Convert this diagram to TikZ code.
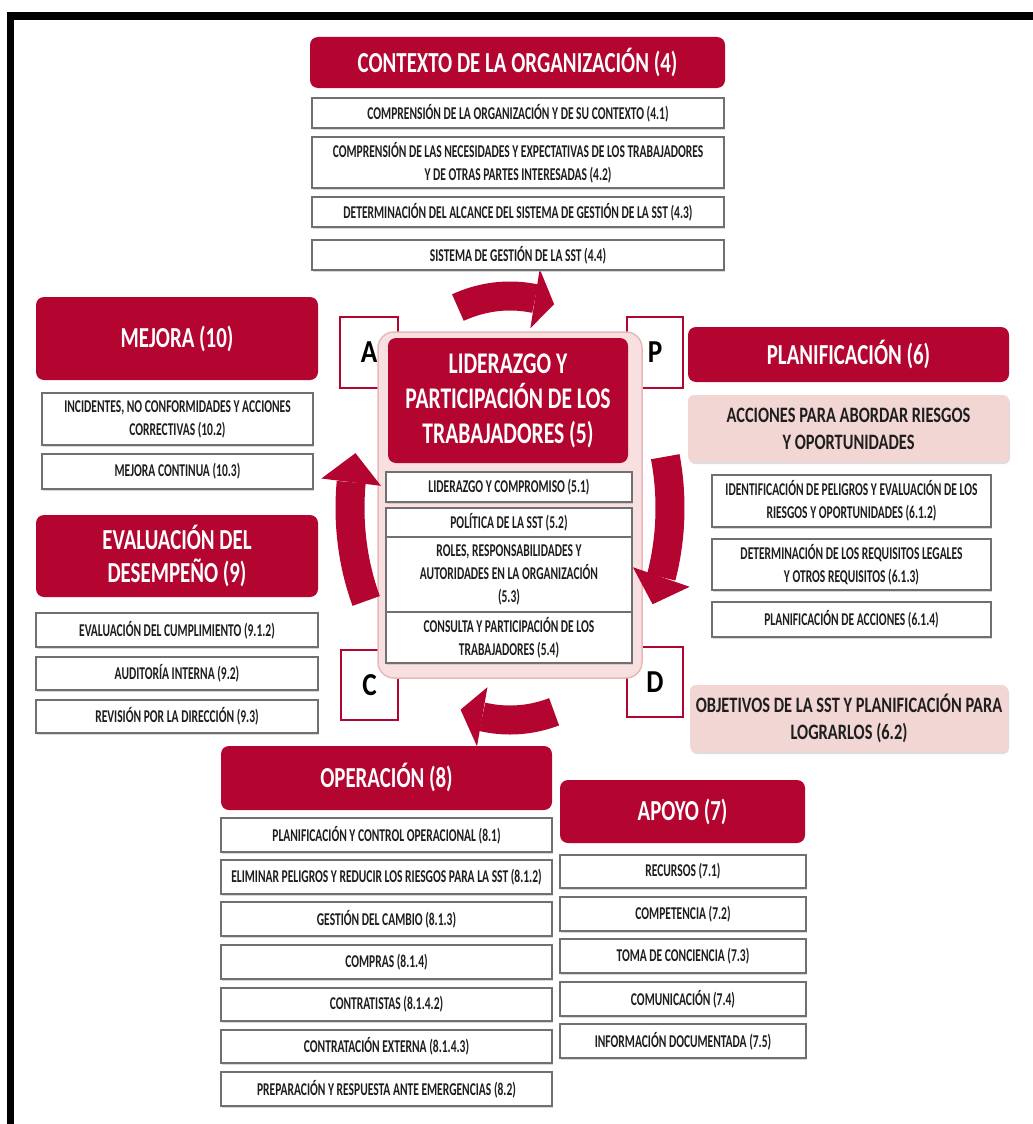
\documentclass[tikz,border=0pt]{standalone}
\usepackage{fontspec}
\setmainfont{Carlito}
\usetikzlibrary{shadows,arrows.meta}
\definecolor{crim}{RGB}{180,4,48}
\definecolor{pinkA}{RGB}{242,214,212}
\definecolor{pinkC}{RGB}{248,224,224}
\definecolor{pinkL}{RGB}{232,184,186}
\definecolor{bxline}{RGB}{112,112,112}
\definecolor{txt}{RGB}{30,30,30}
\newcommand{\tl}[1]{\scalebox{0.72}[1]{#1}}
\newcommand{\tp}[1]{\scalebox{0.745}[1]{#1}}
\newcommand{\sm}[1]{\scalebox{0.64}[1]{#1}}
\newcommand{\lt}[1]{\scalebox{0.85}[1]{#1}}
\newcommand{\mybox}[7]{\node[#6, minimum width={#4pt-#2pt}, minimum height={#5pt-#3pt}] (#1) at ({(#2+#4)/2},{(#3+#5)/2}) {#7};}
\newcommand{\cyc}[3]{%
  \draw[crim, line width=29pt] plot[domain=#1:#2, samples=40] ({510+160*cos(\x)},{508-212*sin(\x)});
  \fill[crim] ({510+190*cos(#2)},{508-242*sin(#2)}) -- ({510+130*cos(#2)},{508-182*sin(#2)}) -- ({510+160*cos(#3)},{508-212*sin(#3)}) -- cycle;}
\tikzset{
  redbox/.style={fill=crim, rounded corners=8pt, text=white, font=\fontsize{29}{33}\selectfont\bfseries, align=center, inner sep=0pt},
  graybox/.style={draw=bxline, line width=1.5pt, fill=white, drop shadow={shadow xshift=1pt,shadow yshift=-1.5pt,fill=black!30}, text=txt, font=\fontsize{18}{23}\selectfont\bfseries, align=center, inner sep=0pt},
  pinkbox/.style={fill=pinkA, rounded corners=6pt, drop shadow={shadow xshift=1pt,shadow yshift=-2pt,fill=black!25}, text=txt, font=\fontsize{22}{27}\selectfont\bfseries, align=center, inner sep=0pt},
  letterbox/.style={draw=crim, line width=2.5pt, fill=white, text=black, font=\fontsize{32}{32}\selectfont\bfseries, inner sep=0pt},
  centerbox/.style={fill=pinkC, draw=pinkL, line width=1.5pt, rounded corners=16pt, inner sep=0pt},
  frameline/.style={draw=black, line width=7.5pt, line join=miter},
}
\begin{document}
\begin{tikzpicture}[x=1pt,y=-1pt]
\useasboundingbox (0,0) rectangle (1033,1124);
\fill[white] (0,0) rectangle (1033,1124);
% frame
\draw[frameline] (10.5,1130) -- (10.5,16) -- (1040,16);

% PDCA letter boxes
\mybox{A}{340}{317}{398}{388}{letterbox}{\lt{A}}
\mybox{P}{627}{317}{683}{388}{letterbox}{\lt{P}}
\mybox{C}{341}{650}{398}{720}{letterbox}{\lt{C}}
\mybox{D}{627}{647}{683}{717}{letterbox}{\lt{D}}

% centre
\mybox{cen}{378}{332}{642}{678}{centerbox}{}
\mybox{lid}{388}{338}{628}{463}{redbox,font=\fontsize{30}{35}\selectfont\bfseries}{\tl{LIDERAZGO Y}\\\tl{PARTICIPACIÓN DE LOS}\\\tl{TRABAJADORES (5)}}
\mybox{s51}{386}{472}{632}{502}{graybox}{\sm{LIDERAZGO Y COMPROMISO (5.1)}}
\mybox{s52}{386}{508}{632}{537}{graybox}{\sm{POLÍTICA DE LA SST (5.2)}}
\mybox{s53}{386}{537}{632}{612}{graybox}{\sm{ROLES, RESPONSABILIDADES Y}\\\sm{AUTORIDADES EN LA ORGANIZACIÓN}\\\sm{(5.3)}}
\mybox{s54}{386}{612}{632}{663}{graybox}{\sm{CONSULTA Y PARTICIPACIÓN DE LOS}\\\sm{TRABAJADORES (5.4)}}

% cycle arrows
\cyc{109}{81}{74}
\cyc{14}{-19}{-27}
\cyc{-74}{-100}{-108}
\cyc{206}{173}{165}

% top
\mybox{ctx}{310}{37}{725}{88}{redbox}{\tl{CONTEXTO DE LA ORGANIZACIÓN (4)}}
\mybox{s41}{312}{98}{724}{128}{graybox}{\sm{COMPRENSIÓN DE LA ORGANIZACIÓN Y DE SU CONTEXTO (4.1)}}
\mybox{s42}{312}{137}{724}{188}{graybox}{\sm{COMPRENSIÓN DE LAS NECESIDADES Y EXPECTATIVAS DE LOS TRABAJADORES}\\\sm{Y DE OTRAS PARTES INTERESADAS (4.2)}}
\mybox{s43}{312}{197}{724}{227}{graybox}{\sm{DETERMINACIÓN DEL ALCANCE DEL SISTEMA DE GESTIÓN DE LA SST (4.3)}}
\mybox{s44}{312}{240}{724}{270}{graybox}{\sm{SISTEMA DE GESTIÓN DE LA SST (4.4)}}

% left
\mybox{mej}{36}{297}{318}{380}{redbox}{\tl{MEJORA (10)}}
\mybox{s102}{42}{393}{313}{445}{graybox}{\sm{INCIDENTES, NO CONFORMIDADES Y ACCIONES}\\\sm{CORRECTIVAS (10.2)}}
\mybox{s103}{42}{454}{313}{489}{graybox}{\sm{MEJORA CONTINUA (10.3)}}
\mybox{eva}{36}{515}{318}{597}{redbox}{\tl{EVALUACIÓN DEL}\\\tl{DESEMPEÑO (9)}}
\mybox{s912}{36}{613}{318}{647}{graybox}{\sm{EVALUACIÓN DEL CUMPLIMIENTO (9.1.2)}}
\mybox{s92}{36}{657}{318}{690}{graybox}{\sm{AUDITORÍA INTERNA (9.2)}}
\mybox{s93}{36}{700}{318}{733}{graybox}{\sm{REVISIÓN POR LA DIRECCIÓN (9.3)}}

% right
\mybox{pla}{688}{327}{1009}{382}{redbox}{\tl{PLANIFICACIÓN (6)}}
\mybox{acc}{688}{395}{1009}{462}{pinkbox}{\tp{ACCIONES PARA ABORDAR RIESGOS}\\\tp{Y OPORTUNIDADES}}
\mybox{s612}{712}{475}{991}{527}{graybox}{\sm{IDENTIFICACIÓN DE PELIGROS Y EVALUACIÓN DE LOS}\\\sm{RIESGOS Y OPORTUNIDADES (6.1.2)}}
\mybox{s613}{712}{539}{991}{590}{graybox}{\sm{DETERMINACIÓN DE LOS REQUISITOS LEGALES}\\\sm{Y OTROS REQUISITOS (6.1.3)}}
\mybox{s614}{712}{602}{991}{637}{graybox}{\sm{PLANIFICACIÓN DE ACCIONES (6.1.4)}}
\mybox{obj}{690}{685}{1008}{752}{pinkbox}{\tp{OBJETIVOS DE LA SST Y PLANIFICACIÓN PARA}\\\tp{LOGRARLOS (6.2)}}

% bottom
\mybox{ope}{221}{746}{552}{810}{redbox}{\tl{OPERACIÓN (8)}}
\mybox{s81}{221}{818}{552}{852}{graybox}{\sm{PLANIFICACIÓN Y CONTROL OPERACIONAL (8.1)}}
\mybox{s812}{221}{860}{552}{894}{graybox}{\sm{ELIMINAR PELIGROS Y REDUCIR LOS RIESGOS PARA LA SST (8.1.2)}}
\mybox{s813}{221}{902}{552}{936}{graybox}{\sm{GESTIÓN DEL CAMBIO (8.1.3)}}
\mybox{s814}{221}{945}{552}{979}{graybox}{\sm{COMPRAS (8.1.4)}}
\mybox{s8142}{221}{988}{552}{1021}{graybox}{\sm{CONTRATISTAS (8.1.4.2)}}
\mybox{s8143}{221}{1030}{552}{1063}{graybox}{\sm{CONTRATACIÓN EXTERNA (8.1.4.3)}}
\mybox{s82}{221}{1072}{552}{1106}{graybox}{\sm{PREPARACIÓN Y RESPUESTA ANTE EMERGENCIAS (8.2)}}
\mybox{apo}{560}{780}{805}{843}{redbox}{\tl{APOYO (7)}}
\mybox{s71}{560}{855}{806}{888}{graybox}{\sm{RECURSOS (7.1)}}
\mybox{s72}{560}{897}{806}{931}{graybox}{\sm{COMPETENCIA (7.2)}}
\mybox{s73}{560}{939}{806}{973}{graybox}{\sm{TOMA DE CONCIENCIA (7.3)}}
\mybox{s74}{560}{982}{806}{1016}{graybox}{\sm{COMUNICACIÓN (7.4)}}
\mybox{s75}{560}{1024}{806}{1058}{graybox}{\sm{INFORMACIÓN DOCUMENTADA (7.5)}}
\end{tikzpicture}
\end{document}
